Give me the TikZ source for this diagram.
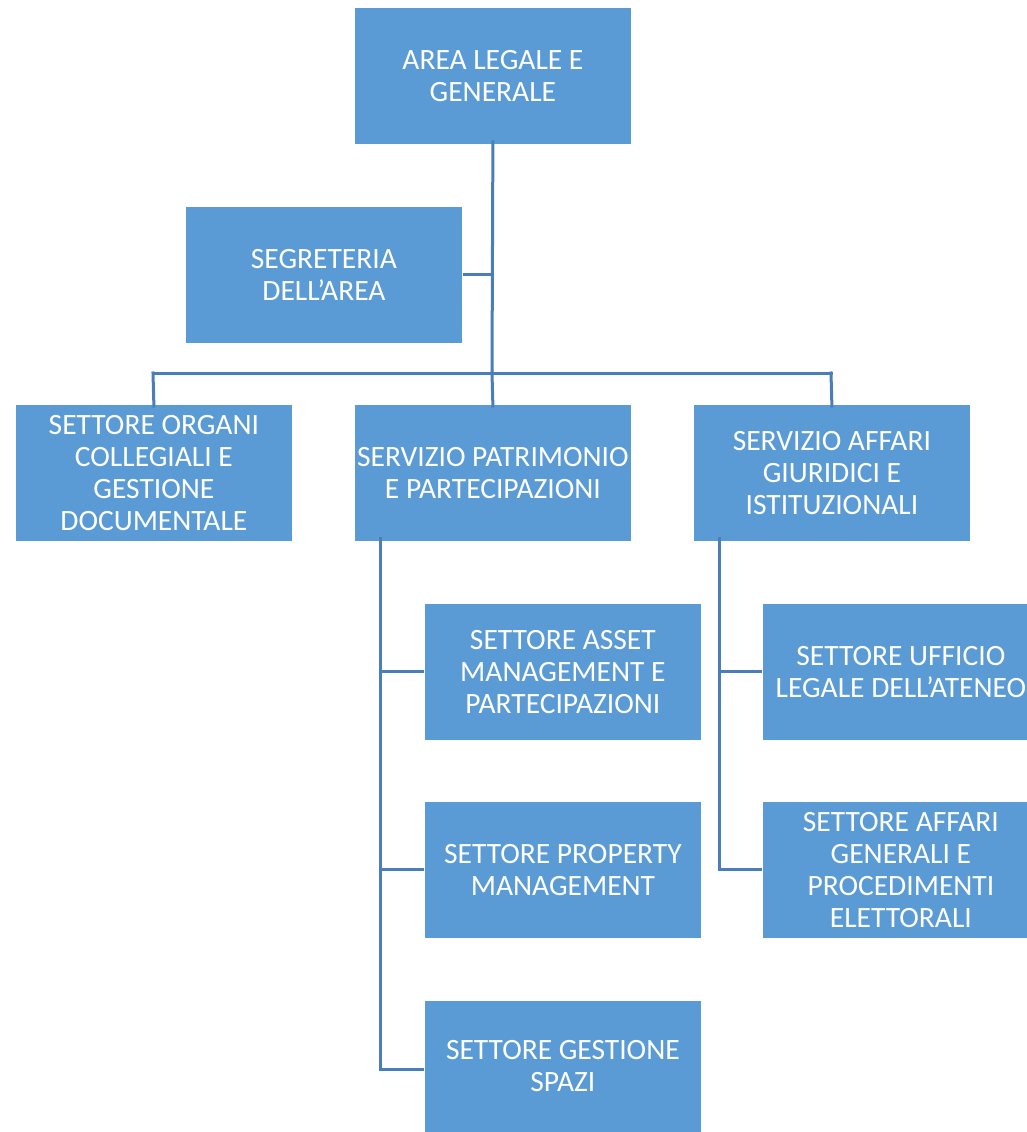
\documentclass[tikz,border=0pt]{standalone}
\usepackage{fontspec}
\setmainfont{Carlito}
\definecolor{boxfill}{HTML}{5B9BD5}
\definecolor{linecol}{HTML}{4A7EBB}
\begin{document}
\begin{tikzpicture}[x=1pt,y=-1pt,
  unit/.style={fill=boxfill, draw=white, line width=0.8pt, minimum width=277pt, minimum height=137pt,
    inner sep=0pt, text=white, align=center, font=\fontsize{29.5}{32}\selectfont, anchor=north west},
  conn/.style={draw=linecol, line width=3pt, line cap=rect}]
\useasboundingbox (0,0) rectangle (1026,1132);
\node[unit] (area) at (354,7) {AREA LEGALE E\\GENERALE};
\node[unit] (segr) at (185,206) {SEGRETERIA\\DELL’AREA};
\node[unit] (organi) at (15,404) {SETTORE ORGANI\\COLLEGIALI E\\GESTIONE\\DOCUMENTALE};
\node[unit] (patr) at (354,404) {SERVIZIO PATRIMONIO\\E PARTECIPAZIONI};
\node[unit] (affari) at (693,404) {SERVIZIO AFFARI\\GIURIDICI E\\ISTITUZIONALI};
\node[unit] (asset) at (424,603) {SETTORE ASSET\\MANAGEMENT E\\PARTECIPAZIONI};
\node[unit] (prop) at (424,801) {SETTORE PROPERTY\\MANAGEMENT};
\node[unit, minimum height=132pt] (spazi) at (424,1000) {SETTORE GESTIONE\\SPAZI};
\node[unit] (legale) at (762,603) {SETTORE UFFICIO\\LEGALE DELL’ATENEO};
\node[unit] (elett) at (762,801) {SETTORE AFFARI\\GENERALI E\\PROCEDIMENTI\\ELETTORALI};
% coordinates
\coordinate (bus) at (492,373);
\coordinate (bl) at (153,373);
\coordinate (br) at (831,373);
\coordinate (pv) at (380,1069);
\coordinate (av) at (719,869);
% connectors
\draw[conn] ([yshift=3pt]area.south) -- (bus);
\draw[conn] ([xshift=2pt]segr.east) -- (segr.east -| area.south);
\draw[conn] (bl) -- (br);
\draw[conn] (bl) -- ([yshift=-2pt]organi.north);
\draw[conn] (bus) -- ([yshift=-2pt]patr.north);
\draw[conn] (br) -- ([yshift=-2pt]affari.north);
\draw[conn] ([yshift=3pt]patr.south -| pv) -- (pv);
\draw[conn] ([xshift=-2pt]asset.west) -- (asset.west -| pv);
\draw[conn] ([xshift=-2pt]prop.west) -- (prop.west -| pv);
\draw[conn] (pv) -- ([xshift=-2pt]spazi.west |- pv);
\draw[conn] ([yshift=3pt]affari.south -| av) -- (av);
\draw[conn] ([xshift=-2pt]legale.west) -- (legale.west -| av);
\draw[conn] (av) -- ([xshift=-2pt]elett.west |- av);
\end{tikzpicture}
\end{document}
